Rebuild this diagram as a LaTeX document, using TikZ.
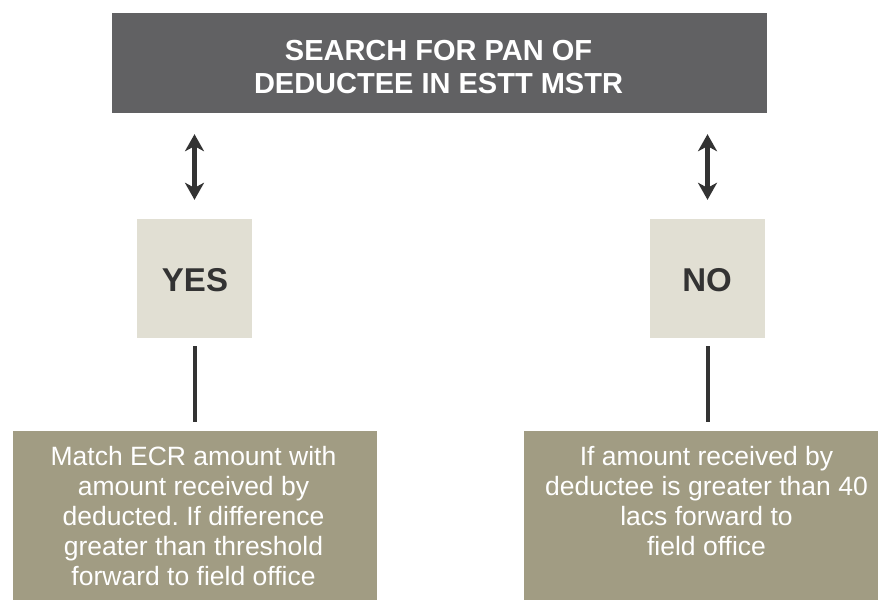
\documentclass[tikz,border=0pt]{standalone}
\usepackage{fontspec}
\setmainfont{Liberation Sans}
\usetikzlibrary{arrows.meta}
\definecolor{topgray}{HTML}{616163}
\definecolor{paleyes}{HTML}{E1DFD3}
\definecolor{khaki}{HTML}{A19C83}
\definecolor{darkink}{HTML}{333333}
\frenchspacing
\tikzset{
  box/.style={draw=none, inner sep=0pt, rectangle},
  topbox/.style={box, fill=topgray},
  choicebox/.style={box, fill=paleyes},
  resultbox/.style={box, fill=khaki},
  toptext/.style={inner sep=0pt, anchor=north, align=center, text=white, font=\fontsize{29}{33}\selectfont\bfseries},
  choicetext/.style={inner sep=0pt, anchor=base, text=darkink, font=\fontsize{33}{38}\selectfont\bfseries},
  resulttext/.style={inner sep=0pt, anchor=north, align=center, text=white, font=\fontsize{26.5}{30}\selectfont},
  dblarrow/.style={draw=darkink, line width=5pt, {Stealth[length=17pt,width=19pt,inset=5pt]}-{Stealth[length=17pt,width=19pt,inset=5pt]}},
  stem/.style={draw=darkink, line width=4pt}
}
\begin{document}
\begin{tikzpicture}[x=1pt,y=-1pt]
\useasboundingbox[fill=white] (0,0) rectangle (878,600);
% boxes
\node[topbox, minimum width=655pt, minimum height=100pt] (top) at (439.5,63) {};
\node[choicebox, minimum width=115pt, minimum height=119pt] (yes) at (194.5,278.5) {};
\node[choicebox, minimum width=115pt, minimum height=119pt] (no) at (707.5,278.5) {};
\node[resultbox, minimum width=364pt, minimum height=169pt] (lbox) at (195,515.5) {};
\node[resultbox, minimum width=354pt, minimum height=169pt] (rbox) at (701,515.5) {};
% texts
\node[toptext] (toplabel) at (438.5,40.2) {SEARCH FOR PAN OF\\DEDUCTEE IN ESTT MSTR};
\node[choicetext] (yeslabel) at (195,291) {YES};
\node[choicetext] (nolabel) at (707,291) {NO};
\node[resulttext] (llabel) at (193.5,445.6) {Match ECR amount with\\amount received by\\deducted. If difference\\greater than threshold\\forward to field office};
\node[resulttext] (rlabel) at (706.5,445.6) {If amount received by\\deductee is greater than 40\\lacs forward to\\field office};
% connectors
\draw[dblarrow, shorten <=21pt, shorten >=19pt] (top.south -| yes.north) -- (yes.north);
\draw[dblarrow, shorten <=21pt, shorten >=19pt] (top.south -| no.north) -- (no.north);
\draw[stem, shorten <=8pt, shorten >=9pt] (yes.south) -- (yes.south |- lbox.north);
\draw[stem, shorten <=8pt, shorten >=9pt] (no.south) -- (no.south |- rbox.north);
\end{tikzpicture}
\end{document}
